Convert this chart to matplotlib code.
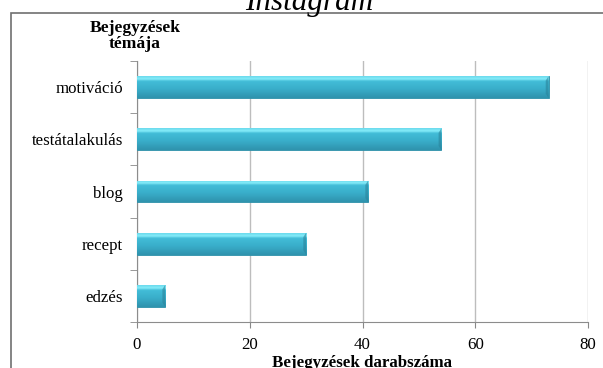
import numpy as np
import matplotlib
matplotlib.use("Agg")
import matplotlib.pyplot as plt
from matplotlib.patches import Rectangle, Polygon
from matplotlib.colors import LinearSegmentedColormap

# post topics (top to bottom) and their counts
topics = ["motiváció", "testátalakulás", "blog", "recept", "edzés"]
counts = [73, 54, 41, 30, 5]
x_ticks = [0, 20, 40, 60, 80]

plt.rcParams["font.family"] = ["Liberation Serif", "DejaVu Serif"]

W, H = 603, 368
fig = plt.figure(figsize=(W / 100, H / 100), dpi=100)
ax = fig.add_axes([137 / W, 1 - 322 / H, (588 - 137) / W, (322 - 61) / H])

ypos = np.arange(len(topics))[::-1]
bars = ax.barh(ypos, counts, height=0.42, color="#3ab0cc",
               edgecolor="#2e8fa8", linewidth=0.6, zorder=3)

# vertical shading: thin light rim on top, darker towards the bottom
shade = LinearSegmentedColormap.from_list(
    "bar", [(0.0, "#2f93ad"), (0.4, "#39adc9"), (0.78, "#42bdd8"),
            (0.87, "#88eefa"), (1.0, "#6ad9ec")])
grad = np.linspace(0, 1, 64).reshape(-1, 1)
for b in bars:
    x0, y0, w, h = b.get_x(), b.get_y(), b.get_width(), b.get_height()
    im = ax.imshow(grad, cmap=shade, aspect="auto", origin="lower",
                   extent=[x0, x0 + w, y0, y0 + h], zorder=3.5,
                   interpolation="bicubic")
    im.set_clip_path(b)
    # bevelled right end
    e = 0.5
    ax.add_patch(Polygon([(x0 + w - e, y0 + h * 0.2), (x0 + w, y0),
                          (x0 + w, y0 + h), (x0 + w - e, y0 + h * 0.8)],
                         closed=True, color="#2a849b", alpha=0.6,
                         zorder=4, linewidth=0))

ax.set_xlim(0, 80)
ax.set_ylim(-0.5, len(topics) - 0.5)
ax.set_xticks(x_ticks)
ax.set_yticks(ypos)
ax.set_yticklabels(topics)
ax.set_yticks(np.arange(-0.5, len(topics), 1), minor=True)
ax.tick_params(axis="y", which="major", length=0, pad=10, labelsize=12.2)
ax.tick_params(axis="y", which="minor", length=5, color="#888888")
ax.tick_params(axis="x", length=4, color="#888888", labelsize=12.2, pad=7)
ax.grid(axis="x", color="#bdbdbd", linewidth=1, zorder=0)
ax.set_axisbelow(True)
for s in ["top", "right"]:
    ax.spines[s].set_visible(False)
for s in ["left", "bottom"]:
    ax.spines[s].set_color("#8c8c8c")

# outer chart border (right and bottom edges fall outside the image)
fig.patches.append(Rectangle((10.5 / W, -0.1), 1.0, 1.1 - 12.5 / H,
                             transform=fig.transFigure, fill=False,
                             edgecolor="#707070", linewidth=1.2))

fig.text(309 / W, 1 - 10 / H, "Instagram", ha="center", va="baseline",
         fontsize=22.4, style="italic")
fig.text(135 / W, 1 - 36 / H, "Bejegyzések\ntémája", ha="center",
         va="center", fontsize=12.6, fontweight="bold", linespacing=0.95)
fig.text(362 / W, 1 - 363 / H, "Bejegyzések darabszáma", ha="center",
         va="center", fontsize=12.2, fontweight="bold")

fig.savefig("out.png", dpi=100)
